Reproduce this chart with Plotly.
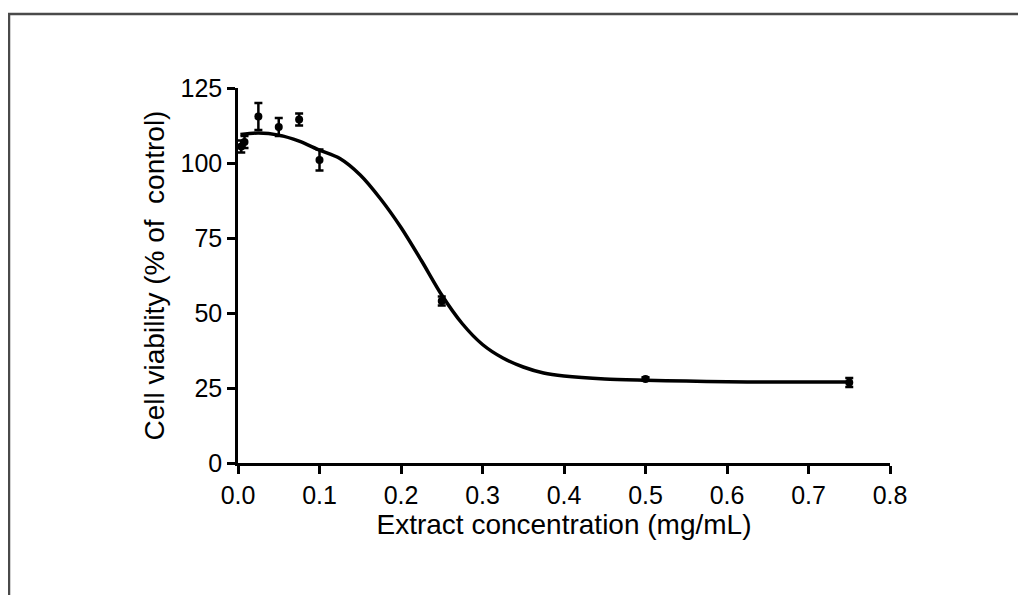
import plotly.graph_objects as go

# measured points (mean +/- error)
conc = [0.004, 0.008, 0.025, 0.05, 0.075, 0.1, 0.25, 0.5, 0.75]
viability = [105.5, 107.0, 115.5, 112.0, 114.5, 101.0, 54.0, 28.0, 26.8]
err = [2.0, 2.0, 4.5, 3.0, 2.0, 3.5, 1.5, 0.6, 1.5]

# fitted curve
fit_x = [0.003, 0.025, 0.05, 0.075, 0.1, 0.125, 0.15, 0.175, 0.2, 0.225, 0.25,
         0.275, 0.3, 0.325, 0.35, 0.375, 0.4, 0.45, 0.5, 0.55, 0.6, 0.65, 0.7, 0.75]
fit_y = [109.5, 110.0, 109.3, 107.3, 104.3, 101.5, 96.0, 88.0, 78.5, 67.5, 56.0,
         46.5, 39.5, 35.0, 32.0, 30.0, 29.0, 28.0, 27.6, 27.3, 27.1, 27.0, 27.0, 27.0]

x_ticks = [0.0, 0.1, 0.2, 0.3, 0.4, 0.5, 0.6, 0.7, 0.8]
y_ticks = [0, 25, 50, 75, 100, 125]

W, H = 1026, 595
# plot area in figure pixels (page body adds 8px offset)
L, R, T, B = 230, 882, 80, 455

fig = go.Figure()
fig.add_trace(go.Scatter(x=fit_x, y=fit_y, mode="lines",
                         line=dict(color="black", width=3.5, shape="spline", smoothing=0.8),
                         showlegend=False, hoverinfo="skip"))
fig.add_trace(go.Scatter(
    x=conc, y=viability, mode="markers",
    marker=dict(color="black", size=8),
    error_y=dict(type="data", array=err, color="black", thickness=2.5, width=4),
    showlegend=False,
))

pw, ph = R - L, B - T
fig.add_shape(type="rect", xref="paper", yref="paper",
              x0=(1 - L) / pw, x1=(W + 20 - L) / pw,
              y0=-(H + 20 - B) / ph, y1=1 + (T - 6) / ph,
              line=dict(color="#4a4a4a", width=2.5), layer="below")

tick_font = dict(family="Liberation Sans, Arial", size=25, color="black")
title_font = dict(family="Liberation Sans, Arial", size=28, color="black")
fig.update_layout(
    width=W, height=H,
    margin=dict(l=L, r=W - R, t=T, b=H - B, pad=0),
    paper_bgcolor="white", plot_bgcolor="white",
    font=tick_font,
    xaxis=dict(
        range=[0, 0.8], tickvals=x_ticks, ticktext=[f"{v:.1f}" for v in x_ticks],
        showline=True, linecolor="black", linewidth=2.5, ticks="outside",
        ticklen=8, tickwidth=2.5, tickcolor="black", showgrid=False, zeroline=False,
        title=dict(text="Extract concentration (mg/mL)", standoff=3, font=title_font),
        tickfont=tick_font,
    ),
    yaxis=dict(
        range=[0, 125], tickvals=y_ticks,
        showline=True, linecolor="black", linewidth=2.5, ticks="outside",
        ticklen=8, tickwidth=2.5, tickcolor="black", showgrid=False, zeroline=False,
        title=dict(text="Cell viability (% of\u00a0 control)", standoff=8, font=title_font),
        tickfont=tick_font,
    ),
)

fig.write_html("out.html")
